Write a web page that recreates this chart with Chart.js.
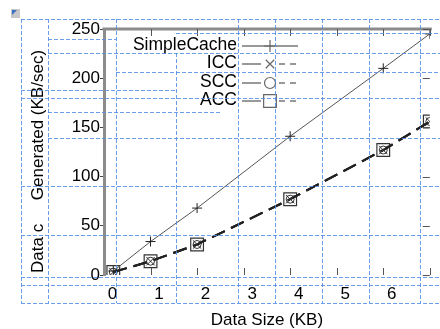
<!DOCTYPE html>
<html>
<head>
<meta charset="utf-8">
<script src="https://cdn.jsdelivr.net/npm/chart.js@4"></script>
<style>
html,body{margin:0;padding:0;background:#fff;}
#wrap{width:440px;height:329px;position:relative;}
</style>
</head>
<body>
<div id="wrap"><canvas id="c" width="440" height="329"></canvas></div>
<script>
// ---- data ----
const dataSizes = [0.2, 1, 2, 4, 6, 7];
const simpleCache = [4, 34, 68, 141, 210, 245];
const icc = [3, 14, 31, 77, 127, 156];
const scc = [3, 14, 31, 77, 127, 156];
const acc = [3, 14, 31, 77, 127, 156];
const seriesNames = ['SimpleCache', 'ICC', 'SCC', 'ACC'];
const xTicks = [0, 1, 2, 3, 4, 5, 6, 7];
const yTicks = [0, 50, 100, 150, 200, 250];

const FONT = "'Liberation Sans', Arial, sans-serif";
const toPts = arr => arr.map((v, i) => ({x: dataSizes[i], y: v}));

const datasets = [
  {label: seriesNames[0], data: toPts(simpleCache), borderColor: '#555', borderWidth: 1,
   pointStyle: 'cross', pointRadius: 5, pointBorderColor: '#222', pointBorderWidth: 1, pointBackgroundColor: 'transparent'},
  {label: seriesNames[1], data: toPts(icc), borderColor: '#222', borderWidth: 2, borderDash: [14, 7],
   pointStyle: 'crossRot', pointRadius: 6, pointBorderColor: '#333', pointBorderWidth: 1, pointBackgroundColor: 'transparent'},
  {label: seriesNames[2], data: toPts(scc), borderColor: '#222', borderWidth: 2, borderDash: [14, 7],
   pointStyle: 'circle', pointRadius: 4, pointBorderColor: '#333', pointBorderWidth: 1, pointBackgroundColor: 'transparent'},
  {label: seriesNames[3], data: toPts(acc), borderColor: '#222', borderWidth: 2, borderDash: [14, 7],
   pointStyle: 'rect', pointRadius: 9, pointBorderColor: '#333', pointBorderWidth: 1.2, pointBackgroundColor: 'transparent'}
];

// axes frame: top line, inward ticks on top/bottom/right
const framePlugin = {
  id: 'frame',
  afterDatasetsDraw(chart) {
    const {ctx, chartArea: a, scales: {x, y}} = chart;
    ctx.save();
    ctx.strokeStyle = '#8c8c8c';
    ctx.lineWidth = 3;
    ctx.beginPath(); ctx.moveTo(a.left - 1.5, a.top); ctx.lineTo(a.right + 2, a.top); ctx.stroke();
    ctx.strokeStyle = '#555';
    ctx.lineWidth = 1;
    xTicks.forEach(v => {
      if (v === 0) return;
      const px = Math.round(x.getPixelForValue(v)) + 0.5;
      ctx.beginPath(); ctx.moveTo(px, a.bottom); ctx.lineTo(px, a.bottom - 7); ctx.stroke();
      ctx.beginPath(); ctx.moveTo(px, a.top); ctx.lineTo(px, a.top + 7); ctx.stroke();
    });
    yTicks.forEach(v => {
      const py = Math.round(y.getPixelForValue(v)) + 0.5;
      ctx.beginPath(); ctx.moveTo(a.right, py); ctx.lineTo(a.right - 7, py); ctx.stroke();
    });
    ctx.restore();
  }
};

// legend drawn inside the plot, text left of the sample
const legendPlugin = {
  id: 'inlegend',
  afterDatasetsDraw(chart) {
    const {ctx} = chart;
    const textRight = 237, sx0 = 242, sx1 = 298, mx = 270;
    const rows = [44, 62, 81, 99];
    ctx.save();
    ctx.font = '17.5px ' + FONT;
    ctx.textAlign = 'right';
    ctx.textBaseline = 'middle';
    chart.data.datasets.forEach((ds, i) => {
      const yy = rows[i];
      ctx.fillStyle = '#000';
      ctx.fillText(ds.label, textRight, yy + 1);
      ctx.strokeStyle = '#777';
      ctx.lineWidth = 1.5;
      if (i === 0) {
        ctx.beginPath(); ctx.moveTo(sx0, yy + 2); ctx.lineTo(sx1, yy + 2); ctx.stroke();
      } else {
        ctx.beginPath(); ctx.moveTo(sx0, yy + 2); ctx.lineTo(sx0 + 19, yy + 2); ctx.stroke();
        ctx.setLineDash([6, 5]);
        ctx.beginPath(); ctx.moveTo(mx + 9, yy + 2); ctx.lineTo(sx1, yy + 2); ctx.stroke();
        ctx.setLineDash([]);
      }
      ctx.lineWidth = 1.2;
      ctx.strokeStyle = '#666';
      ctx.fillStyle = 'rgba(0,0,0,0)';
      const r = i === 0 ? 6 : (i === 3 ? 9 : (i === 2 ? 5.5 : 6));
      Chart.helpers.drawPoint(ctx, {pointStyle: ds.pointStyle, radius: r, borderWidth: 1.2}, mx, yy + 2);
    });
    ctx.restore();
  }
};

// page-layout dashed overlay and small icon
const overlayPlugin = {
  id: 'overlay',
  afterDraw(chart) {
    const {ctx} = chart;
    const H = [[19,21,440],[33,176,440],[39,48,116],[53,48,440],[72,116,440],[90,21,176],[98,21,440],
               [112,48,220],[138,48,440],[186,21,440],[235,21,440],[277,21,440],[285,21,440],[303,21,440]];
    const V = [[21,19,303],[48,19,303],[116,19,303],[176,53,303],[238,19,303],[275,19,303],
               [322,19,303],[369,19,303],[420,19,303]];
    ctx.save();
    ctx.strokeStyle = 'rgba(80,140,230,0.85)';
    ctx.lineWidth = 1;
    ctx.setLineDash([4, 2]);
    H.forEach(([yy, x1, x2]) => { ctx.beginPath(); ctx.moveTo(x1, yy + 0.5); ctx.lineTo(x2, yy + 0.5); ctx.stroke(); });
    V.forEach(([xx, y1, y2]) => { ctx.beginPath(); ctx.moveTo(xx + 0.5, y1); ctx.lineTo(xx + 0.5, y2); ctx.stroke(); });
    ctx.setLineDash([]);
    ctx.fillStyle = '#c8c8c8';
    ctx.fillRect(11, 9, 9, 9);
    ctx.fillStyle = '#3a6fc8';
    ctx.beginPath(); ctx.moveTo(12, 10); ctx.lineTo(17, 10); ctx.lineTo(12, 15); ctx.closePath(); ctx.fill();
    ctx.restore();
  }
};

new Chart(document.getElementById('c'), {
  type: 'line',
  data: {datasets},
  options: {
    responsive: false,
    animation: false,
    devicePixelRatio: 1,
    layout: {padding: {top: 29, right: 0, bottom: 0, left: 0}},
    plugins: {legend: {display: false}, tooltip: {enabled: false}},
    scales: {
      x: {
        type: 'linear', min: 0, max: 7,
        ticks: {stepSize: 1, labelOffset: 8.5, padding: 9, autoSkip: false, maxRotation: 0,
                color: '#000', font: {family: FONT, size: 17},
                callback: v => (v === 7 ? '' : String(v))},
        grid: {display: false, drawTicks: false},
        border: {display: false},
        title: {display: true, text: 'Data Size (KB)', color: '#000',
                font: {family: FONT, size: 17, lineHeight: 1}, padding: {top: 0, bottom: 0.5}},
        afterFit: s => { s.height = 54; }
      },
      y: {
        min: 0, max: 250,
        ticks: {stepSize: 50, padding: 0, color: '#000', font: {family: FONT, size: 17}},
        grid: {drawOnChartArea: false, drawTicks: true, tickLength: 4, tickColor: '#444', tickWidth: 1},
        border: {display: true, color: '#8c8c8c', width: 3},
        title: {display: true, text: 'Data c     Generated (KB/sec)    ', color: '#000',
                font: {family: FONT, size: 17, lineHeight: 1}, padding: {top: 29.5, bottom: 0}},
        afterFit: s => { s.width = 104; }
      }
    }
  },
  plugins: [framePlugin, legendPlugin, overlayPlugin]
});
</script>
</body>
</html>
